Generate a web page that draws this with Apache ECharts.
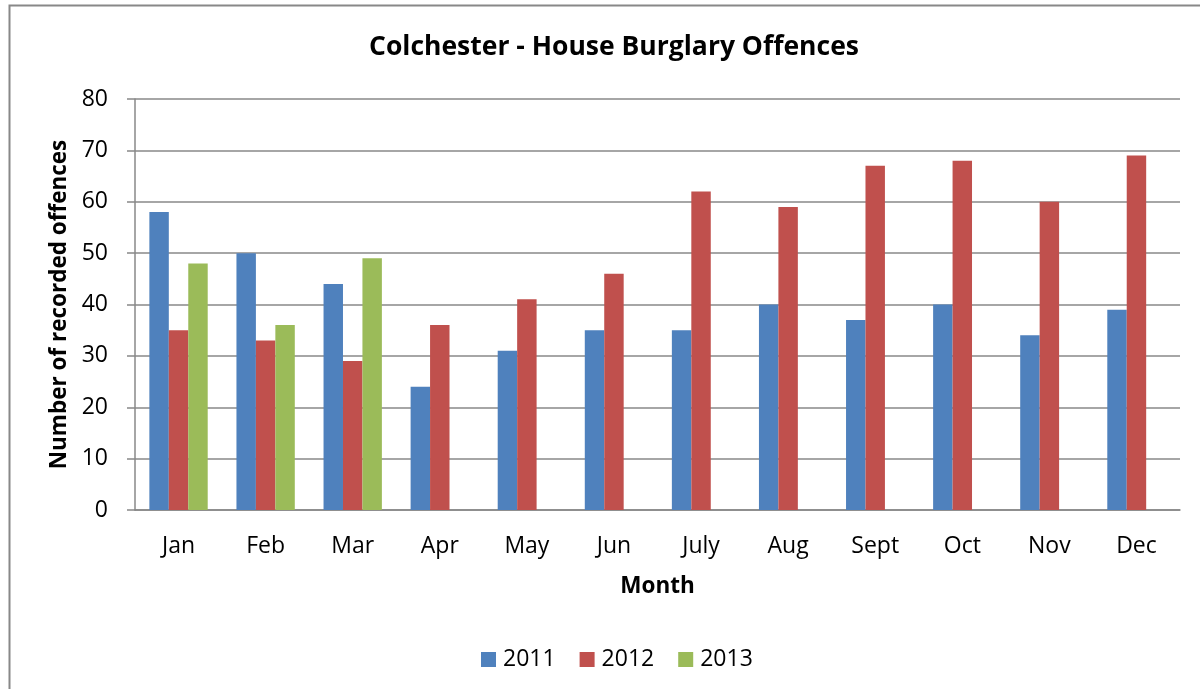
<!DOCTYPE html>
<html>
<head>
<meta charset="utf-8">
<script src="https://cdn.jsdelivr.net/npm/echarts@6/dist/echarts.min.js"></script>
<style>
  html, body { margin: 0; padding: 0; background: #fff; }
  #chart { width: 1200px; height: 689px; }
</style>
</head>
<body>
<div id="chart"></div>
<script>
  // data
  var months = ['Jan', 'Feb', 'Mar', 'Apr', 'May', 'Jun', 'July', 'Aug', 'Sept', 'Oct', 'Nov', 'Dec']
  var values2011 = [58, 50, 44, 24, 31, 35, 35, 40, 37, 40, 34, 39]
  var values2012 = [35, 33, 29, 36, 41, 46, 62, 59, 67, 68, 60, 69]
  var values2013 = [48, 36, 49, null, null, null, null, null, null, null, null, null]
  var yTicks = { min: 0, max: 80, interval: 10 }

  var font = '"Open Sans", "Liberation Sans", sans-serif'
  var chart = echarts.init(document.getElementById('chart'))

  var option = {
    animation: false,
    color: ['#4F81BD', '#C0504D', '#9BBB59'],
    textStyle: { fontFamily: font },
    title: {
      text: 'Colchester - House Burglary Offences',
      left: 609,
      textAlign: 'center',
      top: 29,
      textStyle: { fontSize: 26.5, fontWeight: 'bold', color: '#000', fontFamily: font }
    },
    graphic: [{
      type: 'rect',
      shape: { x: 9.5, y: 5.5, width: 1300, height: 800 },
      style: { fill: 'none', stroke: '#888', lineWidth: 2 },
      silent: true
    }],
    legend: {
      data: ['2011', '2012', '2013'],
      left: 476,
      top: 643,
      itemWidth: 15,
      itemHeight: 15,
      itemGap: 24,
      icon: 'rect',
      textStyle: { fontSize: 23, color: '#000', fontFamily: font, padding: [0, 0, 0, 2] }
    },
    grid: { left: 135, right: 20, top: 99, bottom: 179, containLabel: false },
    xAxis: {
      type: 'category',
      data: months,
      name: 'Month',
      nameLocation: 'middle',
      nameGap: 65,
      nameTextStyle: { fontSize: 22.5, fontWeight: 'bold', color: '#000', fontFamily: font },
      axisLine: { lineStyle: { color: '#888', width: 1.5 } },
      axisTick: { show: false },
      axisLabel: { fontSize: 23, color: '#000', margin: 25, fontFamily: font }
    },
    yAxis: {
      type: 'value',
      min: yTicks.min,
      max: yTicks.max,
      interval: yTicks.interval,
      name: 'Number of recorded offences',
      nameLocation: 'middle',
      nameGap: 62,
      nameRotate: 90,
      nameTextStyle: { fontSize: 22.5, fontWeight: 'bold', color: '#000', fontFamily: font },
      axisLine: { show: true, lineStyle: { color: '#888', width: 1.5 } },
      axisTick: { show: true, length: 8, lineStyle: { color: '#888', width: 1.5 } },
      axisLabel: { fontSize: 23, color: '#000', margin: 27, fontFamily: font },
      splitLine: { lineStyle: { color: '#888', width: 1.5 } }
    },
    series: [
      { name: '2011', type: 'bar', data: values2011, barGap: '0%', barCategoryGap: '33%' },
      { name: '2012', type: 'bar', data: values2012, barGap: '0%', barCategoryGap: '33%' },
      { name: '2013', type: 'bar', data: values2013, barGap: '0%', barCategoryGap: '33%' }
    ]
  }

  chart.setOption(option)
</script>
</body>
</html>
